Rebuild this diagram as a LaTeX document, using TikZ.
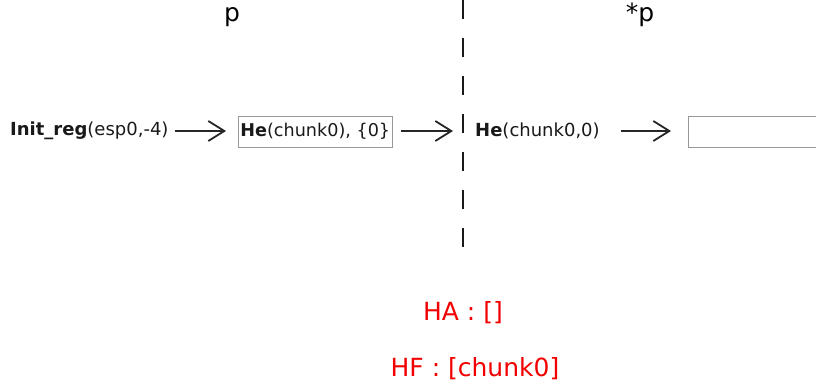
\documentclass[tikz,border=0pt]{standalone}
\usepackage{fontspec}
\setmainfont{DejaVu Sans}
\usetikzlibrary{arrows.meta}
\begin{document}
\begin{tikzpicture}[x=1pt,y=-1pt,
  lbl/.style={inner sep=0pt,font=\fontsize{18}{21}\selectfont,text=black!90},
  cell/.style={draw=black!40,line width=0.9pt,inner xsep=2pt,inner ysep=0pt,minimum height=31pt,font=\fontsize{17.6}{21}\selectfont,text=black!90},
  flow/.style={line width=1.8pt,draw=black!85,-{Straight Barb[length=16pt,width=20pt,line width=1.8pt]}},
  heap/.style={inner sep=0pt,font=\fontsize{25}{29}\selectfont,text=red!95!black},
  title/.style={inner sep=0pt,font=\fontsize{25}{29}\selectfont,text=black}]
\useasboundingbox (0,0) rectangle (816,388);
% column headings and the dashed divider
\node[title] (hp) at (232,17) {p};
\node[title] (hsp) at (640,15) {*p};
\coordinate (top) at (463,0);
\coordinate (bot) at (463,248);
\draw[line width=1.8pt,draw=black!90,dash pattern=on 19pt off 19pt] (top) -- (bot);
% the chain of values
\node[lbl,anchor=west] (init) at (10,131) {\textbf{Init\_reg}(esp0,-4)};
\node[cell,anchor=west] (he1) at (238,131.5) {\textbf{He}(chunk0), \{0\}};
\node[lbl,anchor=west] (he2) at (475,131) {\textbf{He}(chunk0,0)};
\node[cell,anchor=west,minimum width=150pt] (slot) at (688,131.5) {};
\draw[flow,shorten <=6pt,shorten >=12pt] (init.east) -- (he1.west |- init.east);
\draw[flow,shorten <=8pt,shorten >=22pt] (he1.east |- init.east) -- (he2.west);
\draw[flow,shorten <=21pt,shorten >=17pt] (he2.east) -- (slot.west |- he2.east);
% heap state
\node[heap] (ha) at (463,313) {HA : []};
\node[heap] (hf) at (475,369) {HF : [chunk0]};
\end{tikzpicture}
\end{document}
